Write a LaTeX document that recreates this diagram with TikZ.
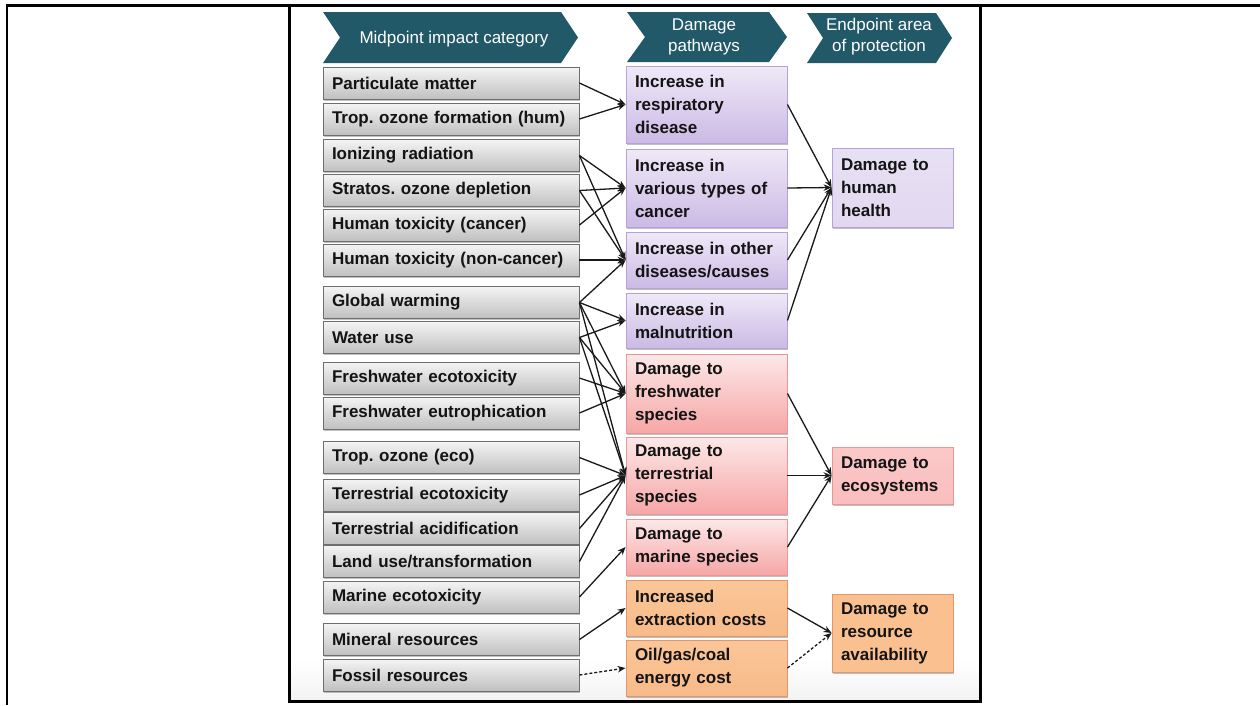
\documentclass[tikz,border=0pt]{standalone}
\usepackage{fontspec}
\setmainfont{Liberation Sans}
\usetikzlibrary{arrows.meta,shadows}
\frenchspacing

\definecolor{hdr}{RGB}{33,89,104}
\definecolor{grayTop}{RGB}{244,244,244}
\definecolor{grayBot}{RGB}{192,192,192}
\definecolor{grayLine}{RGB}{110,110,110}
\definecolor{purTop}{RGB}{239,233,247}
\definecolor{purBot}{RGB}{203,186,229}
\definecolor{purLine}{RGB}{182,162,216}
\definecolor{redTop}{RGB}{253,232,232}
\definecolor{redBot}{RGB}{246,166,166}
\definecolor{redLine}{RGB}{232,150,150}
\definecolor{orgTop}{RGB}{250,198,152}
\definecolor{orgBot}{RGB}{248,186,136}
\definecolor{orgLine}{RGB}{226,150,110}
\definecolor{epPur}{RGB}{226,216,240}
\definecolor{epRed}{RGB}{250,190,190}
\definecolor{epOrg}{RGB}{250,192,144}
\definecolor{txt}{RGB}{20,20,20}

\tikzset{
  frame/.style={line width=2.5pt, black},
  hdrtext/.style={text=white, align=center, font=\fontsize{17}{21}\selectfont, inner sep=0pt},
  box/.style={draw, line width=0.9pt, align=left, text=txt,
    font=\bfseries\fontsize{17}{23}\selectfont,
    drop shadow={shadow xshift=1.2pt, shadow yshift=-1.8pt, opacity=0.35, fill=black!70}},
  mid/.style={box, draw=grayLine, top color=grayTop, bottom color=grayBot,
    minimum width=256pt, minimum height=32pt, text width=238pt, inner xsep=9pt, inner ysep=0pt},
  dmg/.style={box, minimum width=161pt, text width=143pt, inner xsep=9pt, inner ysep=0pt},
  ep/.style={box, minimum width=121pt, text width=103pt, inner xsep=9pt, inner ysep=0pt},
  pur/.style={draw=purLine, top color=purTop, bottom color=purBot},
  red/.style={draw=redLine, top color=redTop, bottom color=redBot},
  org/.style={draw=orgLine, top color=orgTop, bottom color=orgBot},
  arr/.style={line width=1.3pt, black!90, -{Stealth[length=8pt,width=6.5pt]}},
  darr/.style={arr, dash pattern=on 3pt off 2pt}
}

% chevron banner: left x, right x, top y, bottom y, point depth
\newcommand{\banner}[5]{%
  \fill[hdr] (#1,#3) -- ({#2-#5},#3) -- (#2,{(#3+#4)/2}) -- ({#2-#5},#4)
    -- (#1,#4) -- ({#1+#5},{(#3+#4)/2}) -- cycle;}

\begin{document}
\begin{tikzpicture}[x=1pt,y=-1pt]
\useasboundingbox (0,0) rectangle (1260,705);
\fill[white] (0,0) rectangle (1260,705);

% faint floor shading of the figure panel
\shade[top color=white, bottom color=black!5] (290,660) rectangle (980,701);

% column banners
\banner{323}{578}{12}{63}{17}
\banner{627}{787}{12}{62}{18}
\banner{807}{952}{13}{63}{16}
\node[hdrtext] (h1) at (454,39) {Midpoint impact category};
\node[hdrtext] (h2) at (704,37) {Damage\\pathways};
\node[hdrtext] (h3) at (879,37) {Endpoint area\\of protection};

% midpoint impact categories
\node[mid] (pm)  at (451,83)    {Particulate matter};
\node[mid] (toh) at (451,119)   {Trop. ozone formation (hum)};
\node[mid] (ion) at (451,155.5) {Ionizing radiation};
\node[mid] (ozd) at (451,190.5) {Stratos. ozone depletion};
\node[mid] (htc) at (451,225)   {Human toxicity (cancer)};
\node[mid] (htn) at (451,260)   {Human toxicity (non-cancer)};
\node[mid] (gw)  at (451,302.5) {Global warming};
\node[mid] (wu)  at (451,337.5) {Water use};
\node[mid] (fwe) at (451,378)   {Freshwater ecotoxicity};
\node[mid] (fwu) at (451,413)   {Freshwater eutrophication};
\node[mid] (toe) at (451,457.5) {Trop. ozone (eco)};
\node[mid] (tee) at (451,495)   {Terrestrial ecotoxicity};
\node[mid] (tea) at (451,528.5) {Terrestrial acidification};
\node[mid] (lu)  at (451,561.5) {Land use/transformation};
\node[mid] (mae) at (451,597)   {Marine ecotoxicity};
\node[mid] (min) at (451,639.5) {Mineral resources};
\node[mid] (fos) at (451,675)   {Fossil resources};

% damage pathways
\node[dmg,pur,minimum height=77pt] (resp) at (706.5,104.5) {Increase in\\respiratory\\disease};
\node[dmg,pur,minimum height=78pt] (canc) at (706.5,188)   {Increase in\\various types of\\cancer};
\node[dmg,pur,minimum height=56pt] (oth)  at (706.5,260)   {Increase in other\\diseases/causes};
\node[dmg,pur,minimum height=55pt] (mal)  at (706.5,320.5) {Increase in\\malnutrition};
\node[dmg,red,minimum height=79pt] (fws)  at (706.5,393.5) {Damage to\\freshwater\\species};
\node[dmg,red,minimum height=77pt] (ters) at (706.5,475.5) {Damage to\\terrestrial\\species};
\node[dmg,red,minimum height=56pt] (mars) at (706.5,547)   {Damage to\\marine species};
\node[dmg,org,minimum height=56pt] (ext)  at (706.5,608)   {Increased\\extraction costs};
\node[dmg,org,minimum height=56pt] (oil)  at (706.5,668)   {Oil/gas/coal\\energy cost};

% endpoint areas of protection
\node[ep,draw=purLine,top color=epPur!80!white,bottom color=epPur,minimum height=79pt] (hh)  at (892.5,187.5) {Damage to\\human\\health};
\node[ep,draw=redLine,top color=epRed!85!white,bottom color=epRed,minimum height=57pt] (eco) at (892.5,475.5) {Damage to\\ecosystems};
\node[ep,draw=orgLine,fill=epOrg,minimum height=78pt] (res) at (892.5,633) {Damage to\\resource\\availability};

% midpoint -> damage pathway
\draw[arr] (pm.east)  -- (resp.west);
\draw[arr] (toh.east) -- (resp.west);
\draw[arr] (ion.east) -- (canc.west);
\draw[arr] (ion.east) -- (oth.west);
\draw[arr] (ozd.east) -- (canc.west);
\draw[arr] (ozd.east) -- (oth.west);
\draw[arr] (htc.east) -- (canc.west);
\draw[arr] (htn.east) -- (oth.west);
\draw[arr] (gw.east)  -- (oth.west);
\draw[arr] (gw.east)  -- (mal.west);
\draw[arr] (gw.east)  -- (fws.west);
\draw[arr] (gw.east)  -- (ters.west);
\draw[arr] (wu.east)  -- (mal.west);
\draw[arr] (wu.east)  -- (fws.west);
\draw[arr] (wu.east)  -- (ters.west);
\draw[arr] (fwe.east) -- (fws.west);
\draw[arr] (fwu.east) -- (fws.west);
\draw[arr] (toe.east) -- (ters.west);
\draw[arr] (tee.east) -- (ters.west);
\draw[arr] (tea.east) -- (ters.west);
\draw[arr] (lu.east)  -- (ters.west);
\draw[arr] (mae.east) -- (mars.west);
\draw[arr] (min.east) -- (ext.west);
\draw[darr] (fos.east) -- (oil.west);

% damage pathway -> endpoint
\draw[arr] (resp.east) -- (hh.west);
\draw[arr] (canc.east) -- (hh.west);
\draw[arr] (oth.east)  -- (hh.west);
\draw[arr] (mal.east)  -- (hh.west);
\draw[arr] (fws.east)  -- (eco.west);
\draw[arr] (ters.east) -- (eco.west);
\draw[arr] (mars.east) -- (eco.west);
\draw[arr] (ext.east)  -- (res.west);
\draw[darr] (oil.east) -- (res.west);

% surrounding rules
\draw[frame] (6,5.3) -- (1260,5.3);
\draw[frame] (7,5.3) -- (7,705);
\draw[frame] (289.7,5.3) -- (289.7,701.3) -- (980.5,701.3) -- (980.5,5.3);
\end{tikzpicture}
\end{document}
